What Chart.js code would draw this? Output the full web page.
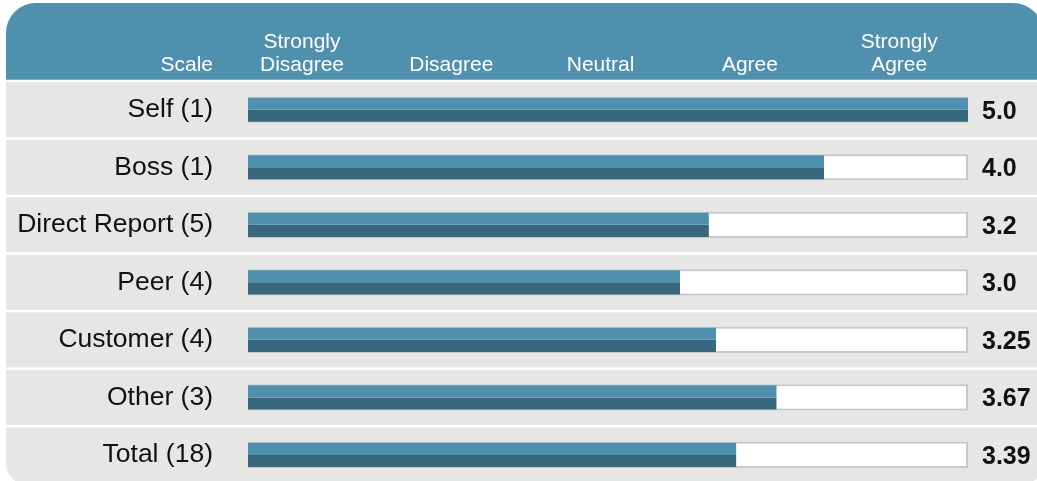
<!DOCTYPE html>
<html>
<head>
<meta charset="utf-8">
<script src="https://cdn.jsdelivr.net/npm/chart.js@4.4.1/dist/chart.umd.min.js"></script>
<style>
  html, body { margin: 0; padding: 0; overflow: hidden; background: #fff; }
</style>
</head>
<body>
<canvas id="scaleChart" width="1037" height="485"></canvas>
<script>
  // dados do gráfico
  var raters = ['Self (1)', 'Boss (1)', 'Direct Report (5)', 'Peer (4)', 'Customer (4)', 'Other (3)', 'Total (18)'];
  var scores = [5.0, 4.0, 3.2, 3.0, 3.25, 3.67, 3.39];
  var scaleLabels = [['Strongly', 'Disagree'], ['Disagree'], ['Neutral'], ['Agree'], ['Strongly', 'Agree']];
  var scaleTitle = 'Scale';
  var scaleMax = 5;

  var blue = '#4F90AE';
  var darkBlue = '#37687D';
  var rowGray = '#E6E6E5';
  var font = '"Liberation Sans", Arial, sans-serif';

  function fmt(v) {
    return Number.isInteger(v) ? v.toFixed(1) : String(v);
  }

  // fundo: cabeçalho azul + linhas cinzas
  var panelPlugin = {
    id: 'panel',
    beforeDraw: function (chart) {
      var c = chart.ctx, a = chart.chartArea;
      var pitch = (a.bottom - a.top) / raters.length;
      c.save();
      c.beginPath();
      c.roundRect(6, 3, 1037, 481, [30, 30, 20, 20]);
      c.clip();
      c.fillStyle = rowGray;
      c.fillRect(0, 0, chart.width, chart.height);
      c.fillStyle = blue;
      c.fillRect(0, 0, chart.width, a.top);
      c.fillStyle = '#fff';
      for (var i = 0; i < raters.length; i++) {
        c.fillRect(0, a.top + i * pitch - 1.25, chart.width, 2.5);
      }
      c.restore();

      // textos do cabeçalho
      c.save();
      c.fillStyle = '#fff';
      c.font = '21px ' + font;
      c.textBaseline = 'alphabetic';
      c.textAlign = 'right';
      c.fillText(scaleTitle, a.left - 35, 71);
      c.textAlign = 'center';
      scaleLabels.forEach(function (lines, i) {
        var x = a.left + 54 + i * 149.3;
        for (var k = 0; k < lines.length; k++) {
          c.fillText(lines[lines.length - 1 - k], x, 71 - k * 23);
        }
      });
      c.restore();
    },
    afterDatasetsDraw: function (chart) {
      var c = chart.ctx, a = chart.chartArea, y = chart.scales.y;
      c.save();
      c.fillStyle = '#111';
      c.font = 'bold 25px ' + font;
      c.textAlign = 'left';
      c.textBaseline = 'middle';
      scores.forEach(function (v, i) {
        c.fillText(fmt(v), a.right + 14, y.getPixelForValue(i) + 2);
      });
      c.restore();
    }
  };

  var ctx = document.getElementById('scaleChart').getContext('2d');
  var scaleChart = new Chart(ctx, {
    type: 'bar',
    data: {
      labels: raters,
      datasets: [{
        label: 'Score',
        data: scores,
        backgroundColor: blue,
        categoryPercentage: 0.42,
        barPercentage: 1
      }, {
        label: 'Score (shade)',
        data: scores,
        backgroundColor: darkBlue,
        categoryPercentage: 0.42,
        barPercentage: 1
      }, {
        // trilho branco atrás das barras
        label: 'Track',
        data: raters.map(function () { return scaleMax; }),
        backgroundColor: '#fff',
        borderColor: '#C8C8C8',
        borderWidth: 2,
        borderSkipped: false,
        grouped: false,
        categoryPercentage: 0.455,
        barPercentage: 1
      }]
    },
    options: {
      indexAxis: 'y',
      responsive: false,
      animation: false,
      layout: { padding: { top: 81, right: 69, bottom: 0, left: 0 } },
      plugins: { legend: { display: false }, tooltip: { enabled: false } },
      scales: {
        x: { display: false, min: 0, max: scaleMax },
        y: {
          type: 'category',
          offset: true,
          grid: { display: false, drawTicks: true, tickLength: 35 },
          border: { display: false },
          ticks: { color: '#111', padding: 0, font: { size: 26.5, family: font, lineHeight: 0.1 } },
          afterFit: function (scale) { scale.width = 248; }
        }
      }
    },
    plugins: [panelPlugin]
  });
</script>
</body>
</html>
